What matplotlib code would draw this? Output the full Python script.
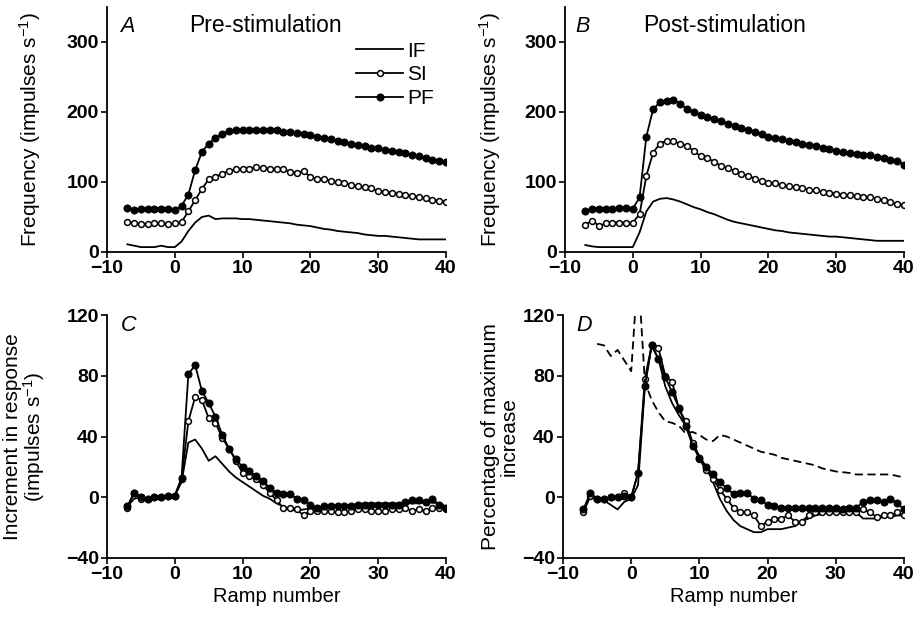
import matplotlib
matplotlib.use("Agg")
import matplotlib.pyplot as plt

plt.rcParams['font.family'] = ['Liberation Sans', 'DejaVu Sans']
plt.rcParams['mathtext.fontset'] = 'custom'
plt.rcParams['mathtext.rm'] = 'Liberation Sans'
plt.rcParams['mathtext.it'] = 'Liberation Sans:italic'

ramp = list(range(-7, 41))

# Panel A: pre-stimulation frequency
a_if = [11, 9, 7, 7, 7, 9, 7, 7, 15, 30, 42, 50, 52, 47, 48, 48, 48, 47, 47, 46, 45, 44, 43, 42,
        41, 39, 38, 37, 35, 33, 32, 30, 29, 28, 27, 25, 24, 23, 23, 22, 21, 20, 19, 18, 18, 18, 18, 18]
a_si = [43, 41, 40, 40, 41, 41, 40, 41, 43, 58, 74, 90, 104, 107, 112, 116, 118, 119, 119, 121, 120, 119,
        119, 118, 115, 113, 116, 107, 105, 104, 102, 100, 98, 96, 94, 93, 91, 87, 86, 85, 83, 82, 80, 79,
        77, 75, 73, 72]
a_pf = [63, 60, 62, 62, 62, 62, 62, 60, 66, 82, 117, 143, 155, 163, 169, 173, 175, 175, 174, 175, 174,
        175, 175, 171, 171, 170, 168, 167, 165, 163, 161, 159, 157, 155, 153, 151, 149, 148, 146, 145,
        143, 141, 139, 137, 135, 132, 130, 129]

# Panel B: post-stimulation frequency
b_if = [10, 8, 7, 7, 7, 7, 7, 7, 28, 58, 72, 76, 77, 75, 72, 68, 64, 61, 57, 54, 50, 46, 43, 41, 39, 37,
        35, 33, 31, 30, 28, 27, 26, 25, 24, 23, 22, 22, 21, 20, 19, 18, 17, 16, 16, 16, 16, 16]
b_si = [39, 45, 37, 41, 42, 42, 42, 42, 54, 109, 142, 155, 159, 158, 155, 152, 144, 137, 134, 129, 123,
        120, 116, 111, 109, 105, 101, 99, 98, 96, 94, 93, 91, 89, 88, 86, 85, 83, 82, 81, 80, 79, 78, 76,
        74, 71, 68, 67]
b_pf = [58, 61, 62, 62, 62, 63, 63, 62, 78, 165, 204, 214, 216, 217, 212, 204, 200, 196, 193, 190, 187,
        183, 180, 177, 175, 172, 168, 165, 163, 161, 159, 157, 155, 153, 151, 149, 147, 145, 143, 142,
        140, 139, 138, 136, 134, 132, 130, 125]

# Panel C: increment in response
c_if = [-6, -1, 0, -1, 0, 0, 1, 1, 10, 36, 38, 32, 24, 27, 22, 17, 13, 10, 7, 4, 1, -1, -4, -6, -8, -9,
        -8, -7.5, -7, -7, -6.5, -6, -6, -5, -4.5, -4, -4, -4, -4, -4, -4, -4, -4, -4, -3.5, -3.5, -4, -6]
c_si = [-7, 3, -1, -1, 0, 0, 1, 1, 12, 50, 66, 64, 52, 49, 39, 32, 24, 16, 14, 12, 8, 3, -2, -7, -7, -8,
        -12, -9, -9, -9, -9, -10, -10, -9, -8, -8, -9, -9, -9, -8, -8, -7, -9, -8, -9, -7, -7, -8]
c_pf = [-6, 3, 0, -1, 0, 0, 1, 1, 13, 81, 87, 70, 62, 53, 41, 32, 25, 20, 17, 14, 11, 6, 3, 2, 2, -1, -2,
        -5, -7, -6, -6, -6, -6, -6, -5, -5, -5, -5, -5, -5, -5, -3, -2, -2, -3, -1, -5, -7]

# Panel D: percentage of maximum increase
d_if = [-8, 0, -1, -2, -5, -8, -3, -1, 8, 73, 100, 91, 73, 62, 54, 47, 36, 27, 20, 10, -1, -9, -15, -19,
        -21, -23, -23, -21, -21, -21, -20, -19, -16, -14, -12, -11, -10, -10, -10, -10, -10, -14, -14,
        -14, -13, -13, -12, -12]
d_si = [-10, 1, -1, -1, 0, 0, 3, 0, 16, 78, 100, 98, 80, 76, 58, 50, 36, 25, 18, 12, 5, -1, -7, -10, -10,
        -12, -19, -16, -14, -14, -12, -16, -16, -12, -10, -10, -10, -10, -10, -10, -10, -8, -10, -13, -12,
        -12, -10, -12]
d_pf = [-8, 3, -1, -1, 0, 0, 1, 0, 16, 73, 100, 91, 79, 69, 59, 47, 34, 26, 20, 15, 10, 6, 2, 3, 3, -1,
        -2, -5, -6, -7, -7, -7, -7, -7, -7, -7, -7, -7, -8, -7, -7, -3, -2, -2, -3, -1, -4, -8]
ramp_dash = list(range(-5, 41))
d_dash = [101, 100, 93, 97, 90, 83, 150, 76, 64, 56, 50, 49, 47, 42, 43, 41, 38, 37, 41, 40, 38, 36, 34,
          32, 30, 29, 28, 26, 25, 24, 23, 22, 21, 19, 18, 17, 16.5, 16, 15, 15, 15, 15, 15, 15, 14, 13]

xticks = [-10, 0, 10, 20, 30, 40]

W, H = 922, 620
fig = plt.figure(figsize=(W / 100, H / 100), dpi=100)


def make_ax(left, right, top, bottom):
    return fig.add_axes([left / W, 1 - bottom / H, (right - left) / W, (bottom - top) / H])


axA = make_ax(107, 446, 7, 252)
axB = make_ax(565, 904, 7, 252)
axC = make_ax(107, 446, 315, 558)
axD = make_ax(563, 904, 315, 558)

LW = 1.3
open_kw = dict(marker='o', ms=4.2, mfc='white', mec='black', mew=1.1)
fill_kw = dict(marker='o', ms=5.0, mfc='black', mec='black', mew=0.8)


def draw_three(ax, y_if, y_si, y_pf):
    l1, = ax.plot(ramp, y_if, color='black', lw=LW, label='IF')
    l2, = ax.plot(ramp, y_si, color='black', lw=LW, label='SI', **open_kw)
    l3, = ax.plot(ramp, y_pf, color='black', lw=LW, label='PF', **fill_kw)
    return [l1, l2, l3]


def style(ax, ylim, yticks):
    ax.set_xlim(-10, 40)
    ax.set_ylim(*ylim)
    ax.set_xticks(xticks)
    ax.set_yticks(yticks)
    for s in ('top', 'right'):
        ax.spines[s].set_visible(False)
    for s in ('left', 'bottom'):
        ax.spines[s].set_linewidth(1.3)
    ax.tick_params(direction='out', length=4, width=1.2, labelsize=14, pad=2)
    for lab in ax.get_xticklabels() + ax.get_yticklabels():
        lab.set_fontweight('bold')


handles = draw_three(axA, a_if, a_si, a_pf)
draw_three(axB, b_if, b_si, b_pf)
draw_three(axC, c_if, c_si, c_pf)
draw_three(axD, d_if, d_si, d_pf)
axD.plot(ramp_dash, d_dash, color='black', lw=1.3, linestyle=(0, (4.5, 2.5)))

style(axA, (0, 350), [0, 100, 200, 300])
style(axB, (0, 350), [0, 100, 200, 300])
style(axC, (-40, 120), [-40, 0, 40, 80, 120])
style(axD, (-40, 120), [-40, 0, 40, 80, 120])

lab_fs = 15
axA.set_ylabel('Frequency (impulses s$^{-1}$)', fontsize=lab_fs)
axA.yaxis.set_label_coords(-0.19, 0.5)
axB.set_ylabel('Frequency (impulses s$^{-1}$)', fontsize=lab_fs)
axB.yaxis.set_label_coords(-0.183, 0.5)
axC.set_ylabel('Increment in response\n(impulses s$^{-1}$)', fontsize=lab_fs, linespacing=0.95)
axC.yaxis.set_label_coords(-0.177, 0.5)
axD.set_ylabel('Percentage of maximum\nincrease', fontsize=lab_fs, linespacing=0.95)
axD.yaxis.set_label_coords(-0.13, 0.5)
axC.set_xlabel('Ramp number', fontsize=14.5, labelpad=3)
axD.set_xlabel('Ramp number', fontsize=14.5, labelpad=3)

axA.text(0.04, 0.965, 'A', transform=axA.transAxes, fontsize=15.5, style='italic', va='top', ha='left')
axA.text(0.243, 0.97, 'Pre-stimulation', transform=axA.transAxes, fontsize=16.5, va='top', ha='left')
axB.text(0.03, 0.965, 'B', transform=axB.transAxes, fontsize=15.5, style='italic', va='top', ha='left')
axB.text(0.23, 0.97, 'Post-stimulation', transform=axB.transAxes, fontsize=16.5, va='top', ha='left')
axC.text(0.04, 1.0, 'C', transform=axC.transAxes, fontsize=15.5, style='italic', va='top', ha='left')
axD.text(0.04, 1.0, 'D', transform=axD.transAxes, fontsize=15.5, style='italic', va='top', ha='left')

axA.legend(handles=handles, loc='upper right', bbox_to_anchor=(0.965, 0.858), frameon=False,
           fontsize=15, handlelength=2.25, handletextpad=0.2, labelspacing=0.22,
           borderaxespad=0, borderpad=0, numpoints=1)

fig.savefig('out.png', dpi=100)
